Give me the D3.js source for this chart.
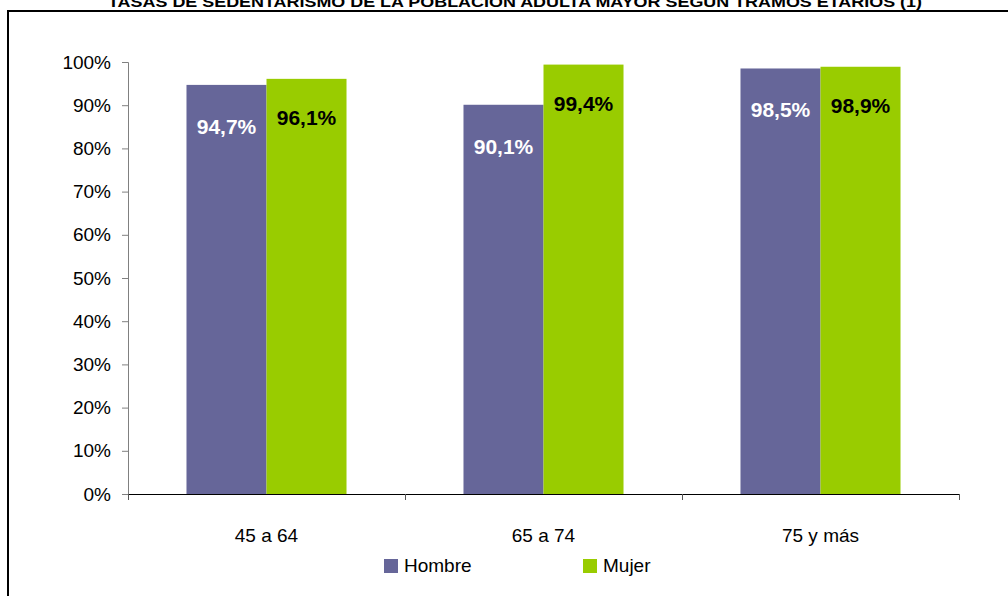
<!DOCTYPE html>
<html><head><meta charset="utf-8">
<script src="https://cdn.jsdelivr.net/npm/d3@7/dist/d3.min.js"></script>
<style>
html,body{margin:0;padding:0;background:#fff;}
svg{display:block;font-family:Arial,"Liberation Sans",sans-serif;}
</style></head>
<body><svg id="c" width="1008" height="596"></svg>
<script>
const title = "TASAS DE SEDENTARISMO DE LA POBLACIÓN ADULTA MAYOR SEGÚN TRAMOS ETARIOS (1)";
const categories = ["45 a 64", "65 a 74", "75 y más"];
const seriesNames = ["Hombre", "Mujer"];
const hombre = [94.7, 90.1, 98.5];
const mujer = [96.1, 99.4, 98.9];
const yTicks = [0,10,20,30,40,50,60,70,80,90,100];
const colors = ["#666699", "#99CC00"];
const labelColors = ["#ffffff", "#000000"];

const svg = d3.select("#c");
const values = [hombre, mujer];

// frame
svg.append("rect").attr("x",8).attr("y",11).attr("width",1100).attr("height",700)
  .attr("fill","none").attr("stroke","#000").attr("stroke-width",2);

svg.append("text").attr("x",515).attr("y",7).attr("text-anchor","middle")
  .attr("font-family","'Liberation Sans Narrow','Arial Narrow',Arial,sans-serif")
  .attr("font-weight","bold").attr("font-size",15)
  .attr("textLength",814).attr("lengthAdjust","spacingAndGlyphs")
  .text(title);

const x0 = d3.scaleBand().domain(categories).range([128,959]).paddingInner(0).paddingOuter(0);
const x1 = d3.scaleBand().domain(seriesNames).range([0,x0.bandwidth()]).paddingInner(0).paddingOuter(0.731);
const y = d3.scaleLinear().domain([0,100]).range([494,62]);

// y axis
const ya = svg.append("g").attr("transform","translate(128,0)")
  .call(d3.axisLeft(y).tickValues(yTicks).tickSize(6).tickPadding(11).tickFormat(d=>d+"%"));
ya.select(".domain").attr("stroke","#808080").attr("d","M-6,62.5H0.5V494.5");
ya.selectAll(".tick line").attr("stroke","#808080");
ya.selectAll("text").attr("font-family","Arial,'Liberation Sans',sans-serif").attr("font-size",19).attr("fill","#000");

// bars
const groups = svg.append("g").selectAll("g").data(categories).join("g")
  .attr("transform",d=>`translate(${x0(d)},0)`);
seriesNames.forEach((s,si)=>{
  groups.append("rect")
    .attr("x",x1(s)).attr("width",x1.bandwidth())
    .attr("y",(d,i)=>y(values[si][i])).attr("height",(d,i)=>y(0)-y(values[si][i]))
    .attr("fill",colors[si]);
  groups.append("text")
    .attr("x",x1(s)+x1.bandwidth()/2)
    .attr("y",(d,i)=>y(values[si][i])+ (si===0?49:46))
    .attr("text-anchor","middle").attr("font-weight","bold").attr("font-size",21)
    .attr("fill",labelColors[si])
    .text((d,i)=>values[si][i].toFixed(1).replace(".",",")+"%");
});

// x axis
const xa = svg.append("g").attr("transform","translate(0,494)");
xa.append("path").attr("d","M128,0.5H959.5").attr("stroke","#000").attr("fill","none");
const bounds = [128].concat(categories.map(c=>x0(c)+x0.bandwidth()));
xa.selectAll("line").data(bounds).join("line")
  .attr("x1",d=>Math.round(d)+0.5).attr("x2",d=>Math.round(d)+0.5).attr("y1",0).attr("y2",6)
  .attr("stroke","#555");
xa.selectAll("text").data(categories).join("text")
  .attr("x",d=>x0(d)+x0.bandwidth()/2).attr("y",48)
  .attr("text-anchor","middle").attr("font-size",19).text(d=>d);

// legend
const legX = [384, 583];
const leg = svg.append("g");
seriesNames.forEach((s,i)=>{
  leg.append("rect").attr("x",legX[i]).attr("y",559).attr("width",14).attr("height",14).attr("fill",colors[i]);
  leg.append("text").attr("x",legX[i]+20).attr("y",572).attr("font-size",19).text(s);
});
</script></body></html>
